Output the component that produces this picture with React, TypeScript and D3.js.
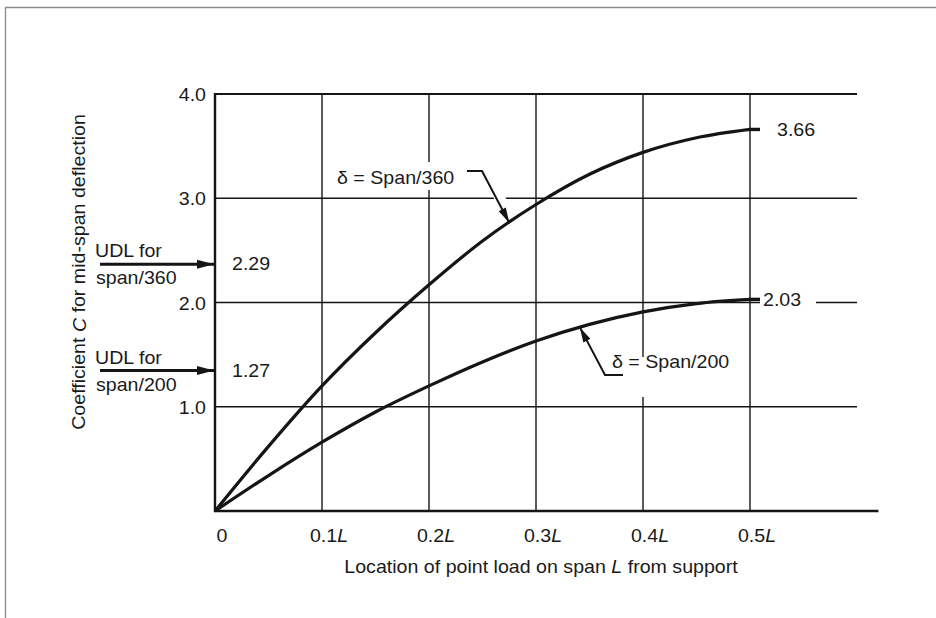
import React from "react";
import * as d3 from "d3";

// ---- data ----
const positions = [0, 0.05, 0.1, 0.15, 0.2, 0.25, 0.3, 0.35, 0.4, 0.45, 0.5];
const span360 = [0, 0.62, 1.2, 1.71, 2.17, 2.59, 2.94, 3.23, 3.44, 3.58, 3.66];
const span200 = [0, 0.34, 0.66, 0.95, 1.2, 1.43, 1.63, 1.79, 1.91, 1.99, 2.03];
const xTicks = [0, 0.1, 0.2, 0.3, 0.4, 0.5];
const xTickLabels = ["0", "0.1", "0.2", "0.3", "0.4", "0.5"];
const yTicks = [1, 2, 3, 4];
const yTickLabels = ["1.0", "2.0", "3.0", "4.0"];
const udlValues = [2.29, 1.27];
const udlLabels = [["UDL for", "span/360"], ["UDL for", "span/200"]];
const endValues = [3.66, 2.03];

const W = 936;
const H = 618;
const FS = 18;
const SX = 1.09;
const FONT = "'Liberation Sans', Arial, Helvetica, sans-serif";

const x = d3.scaleLinear().domain([0, 0.6]).range([215, 857]);
const y = d3.scaleLinear().domain([0, 4]).range([511, 94]);

function interp(arr: number[], v: number) {
  const i = d3.bisectRight(positions, v) - 1;
  const j = Math.min(i + 1, positions.length - 1);
  if (i === j) return arr[i];
  const t = (v - positions[i]) / (positions[j] - positions[i]);
  return arr[i] + t * (arr[j] - arr[i]);
}

function T(props: {
  x: number;
  y: number;
  anchor?: string;
  rotate?: number;
  baseline?: string;
  children: React.ReactNode;
}) {
  const { x: tx, y: ty, anchor = "start", rotate = 0, baseline = "auto", children } = props;
  return (
    <g transform={`translate(${tx},${ty}) rotate(${rotate}) scale(${SX},1)`}>
      <text
        textAnchor={anchor}
        dominantBaseline={baseline}
        fontSize={FS}
        fontFamily={FONT}
        fill="#1a1a1a"
      >
        {children}
      </text>
    </g>
  );
}

export default function App() {
  const line = d3
    .line<number>()
    .x((_, i) => x(positions[i]))
    .y((d) => y(d))
    .curve(d3.curveCatmullRom.alpha(0.5));

  const x05 = x(0.5);

  // annotation tips on curves
  const tip360x = x(0.275);
  const tip360y = y(interp(span360, 0.275));
  const tip200x = x(0.341);
  const tip200y = y(interp(span200, 0.341));

  const ink = "#151515";

  return (
    <svg
      width={W}
      height={H}
      style={{ position: "absolute", left: 0, top: 0, background: "#fff" }}
    >
      <defs>
        <marker
          id="ahSmall"
          markerUnits="userSpaceOnUse"
          markerWidth={20}
          markerHeight={12}
          viewBox="0 -6 16 12"
          refX={15}
          refY={0}
          orient="auto"
        >
          <path d="M0,-4 L15,0 L0,4 Z" fill={ink} />
        </marker>
        <marker
          id="ahBig"
          markerUnits="userSpaceOnUse"
          markerWidth={20}
          markerHeight={12}
          viewBox="0 -6 18 12"
          refX={17}
          refY={0}
          orient="auto"
        >
          <path d="M0,-4.5 L17,0 L0,4.5 Z" fill={ink} />
        </marker>
      </defs>

      <rect x={0} y={0} width={W} height={H} fill="#fff" />
      {/* frame */}
      <line x1={5} y1={7.5} x2={W} y2={7.5} stroke="#8a8a8a" strokeWidth={1.3} />
      <line x1={5.5} y1={7} x2={5.5} y2={H} stroke="#8a8a8a" strokeWidth={1.3} />

      {/* horizontal gridlines */}
      {yTicks.map((t) => (
        <line
          key={"h" + t}
          x1={x(0)}
          x2={x(0.6)}
          y1={y(t)}
          y2={y(t)}
          stroke={ink}
          strokeWidth={t === 4 ? 2 : 1.4}
        />
      ))}
      {/* vertical gridlines */}
      {xTicks.slice(1).map((t) => (
        <line
          key={"v" + t}
          x1={x(t)}
          x2={x(t)}
          y1={y(0)}
          y2={y(4)}
          stroke={ink}
          strokeWidth={1.4}
        />
      ))}
      {/* axes */}
      <line x1={x(0)} x2={x(0)} y1={y(0) + 1} y2={y(4) - 1} stroke={ink} strokeWidth={2.4} />
      <line x1={x(0) - 1} x2={x(0.62)} y1={y(0)} y2={y(0)} stroke={ink} strokeWidth={2.6} />

      {/* white masks behind labels */}
      <rect x={334} y={162} width={132} height={28} fill="#fff" />
      <rect x={610} y={357} width={130} height={40} fill="#fff" />
      <rect x={760} y={y(endValues[1]) - 12} width={56} height={24} fill="#fff" />

      {/* curves */}
      <path d={line(span360) || ""} fill="none" stroke={ink} strokeWidth={3.2} />
      <path d={line(span200) || ""} fill="none" stroke={ink} strokeWidth={3.2} />
      <line x1={x05 - 1} x2={x05 + 10} y1={y(span360[10])} y2={y(span360[10])} stroke={ink} strokeWidth={3.4} />
      <line x1={x05 - 1} x2={x05 + 10} y1={y(span200[10])} y2={y(span200[10])} stroke={ink} strokeWidth={3.4} />

      {/* end labels */}
      <T x={777} y={y(endValues[0])} baseline="central">{endValues[0].toFixed(2)}</T>
      <T x={763} y={y(endValues[1])} baseline="central">{endValues[1].toFixed(2)}</T>

      {/* annotation δ = Span/360 */}
      <line x1={488} y1={180} x2={505} y2={206} stroke="#fff" strokeWidth={10} />
      <polyline
        points={`467,171 482,171 ${tip360x},${tip360y}`}
        fill="none"
        stroke={ink}
        strokeWidth={2}
        markerEnd="url(#ahSmall)"
      />
      <T x={337} y={184}>δ = Span/360</T>

      {/* annotation δ = Span/200 */}
      <polyline
        points={`623,375 605,375 ${tip200x},${tip200y}`}
        fill="none"
        stroke={ink}
        strokeWidth={2}
        markerEnd="url(#ahSmall)"
      />
      <T x={612} y={368}>δ = Span/200</T>

      {/* UDL arrows */}
      {udlValues.map((v, i) => {
        const yy = y(v) - 8;
        return (
          <g key={"udl" + i}>
            <line
              x1={100}
              x2={x(0) - 1}
              y1={yy}
              y2={yy}
              stroke={ink}
              strokeWidth={3}
              markerEnd="url(#ahBig)"
            />
            <T x={95} y={yy - 7}>{udlLabels[i][0]}</T>
            <T x={96} y={yy + 20}>{udlLabels[i][1]}</T>
            <T x={232} y={yy} baseline="central">{v.toFixed(2)}</T>
          </g>
        );
      })}

      {/* y tick labels */}
      {yTicks.map((t, i) => (
        <T key={"yl" + t} x={206} y={y(t) + 1} anchor="end" baseline="central">
          {yTickLabels[i]}
        </T>
      ))}

      {/* x tick labels */}
      {xTicks.map((t, i) => (
        <T key={"xl" + t} x={x(t) + 7} y={542} anchor="middle">
          {xTickLabels[i]}
          {i > 0 ? <tspan fontStyle="italic">L</tspan> : null}
        </T>
      ))}

      {/* axis titles */}
      <T x={541} y={573} anchor="middle">
        Location of point load on span <tspan fontStyle="italic">L</tspan> from support
      </T>
      <T x={79} y={272} anchor="middle" rotate={-90} baseline="central">
        Coefficient <tspan fontStyle="italic">C</tspan> for mid-span deflection
      </T>
    </svg>
  );
}
